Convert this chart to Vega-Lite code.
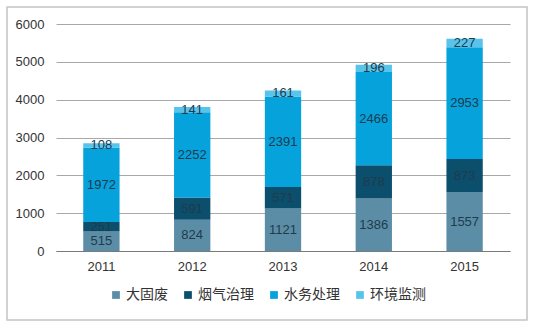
{
  "$schema": "https://vega.github.io/schema/vega-lite/v6.json",
  "width": 520,
  "height": 313,
  "autosize": {"type": "none"},
  "padding": {"left": 7, "top": 7, "right": 6, "bottom": 9},
  "background": "white",
  "config": {
    "view": {"stroke": "#c4c4c4", "strokeWidth": 1.5},
    "font": "Liberation Sans"
  },
  "data": {
    "values": [
      {"year": "2011", "category": "大固废", "order": 1, "value": 515},
      {"year": "2011", "category": "烟气治理", "order": 2, "value": 251},
      {"year": "2011", "category": "水务处理", "order": 3, "value": 1972},
      {"year": "2011", "category": "环境监测", "order": 4, "value": 108},
      {"year": "2012", "category": "大固废", "order": 1, "value": 824},
      {"year": "2012", "category": "烟气治理", "order": 2, "value": 591},
      {"year": "2012", "category": "水务处理", "order": 3, "value": 2252},
      {"year": "2012", "category": "环境监测", "order": 4, "value": 141},
      {"year": "2013", "category": "大固废", "order": 1, "value": 1121},
      {"year": "2013", "category": "烟气治理", "order": 2, "value": 571},
      {"year": "2013", "category": "水务处理", "order": 3, "value": 2391},
      {"year": "2013", "category": "环境监测", "order": 4, "value": 161},
      {"year": "2014", "category": "大固废", "order": 1, "value": 1386},
      {"year": "2014", "category": "烟气治理", "order": 2, "value": 878},
      {"year": "2014", "category": "水务处理", "order": 3, "value": 2466},
      {"year": "2014", "category": "环境监测", "order": 4, "value": 196},
      {"year": "2015", "category": "大固废", "order": 1, "value": 1557},
      {"year": "2015", "category": "烟气治理", "order": 2, "value": 873},
      {"year": "2015", "category": "水务处理", "order": 3, "value": 2953},
      {"year": "2015", "category": "环境监测", "order": 4, "value": 227}
    ]
  },
  "transform": [
    {"stack": "value", "groupby": ["year"], "sort": [{"field": "order", "order": "ascending"}], "as": ["y0", "y1"]},
    {"calculate": "(datum.y0 + datum.y1) / 2", "as": "mid"}
  ],
  "encoding": {
    "x": {
      "field": "year",
      "type": "nominal",
      "scale": {"range": [49, 503], "paddingInner": 0.6, "paddingOuter": 0.3},
      "axis": {
        "title": null,
        "orient": "bottom",
        "offset": -69,
        "labelAngle": 0,
        "ticks": false,
        "domain": true,
        "domainColor": "#7a7a7a",
        "domainWidth": 1.2,
        "labelPadding": 9,
        "labelFontSize": 13,
        "labelColor": "#333333",
        "labelFont": "Liberation Sans"
      }
    }
  },
  "layer": [
    {
      "mark": {"type": "bar"},
      "encoding": {
        "y": {
          "field": "y0",
          "type": "quantitative",
          "scale": {"domain": [0, 6000], "range": [244, 17], "nice": false, "zero": false},
          "axis": {
            "title": null,
            "orient": "left",
            "offset": -49,
            "values": [0, 1000, 2000, 3000, 4000, 5000, 6000],
            "format": "d",
            "grid": true,
            "gridColor": "#a8a8a8",
            "gridWidth": 1,
            "domain": false,
            "ticks": false,
            "labelPadding": 12,
            "labelFontSize": 13,
            "labelColor": "#333333",
            "labelFont": "Liberation Sans"
          }
        },
        "y2": {"field": "y1"},
        "color": {
          "field": "category",
          "type": "nominal",
          "sort": ["大固废", "烟气治理", "水务处理", "环境监测"],
          "scale": {
            "domain": ["大固废", "烟气治理", "水务处理", "环境监测"],
            "range": ["#5b8ea6", "#0b4f6c", "#05a2dc", "#58c4ec"]
          },
          "legend": {
            "title": null,
            "orient": "none",
            "legendX": 102,
            "legendY": 281,
            "direction": "horizontal",
            "symbolType": "square",
            "symbolSize": 60,
            "symbolStrokeWidth": 0,
            "labelFont": "Noto Sans CJK SC",
            "labelFontSize": 14,
            "labelColor": "#333333",
            "labelOffset": 3,
            "columnPadding": 13
          }
        }
      }
    },
    {
      "mark": {"type": "text", "fontSize": 13, "color": "#1f3b4d", "font": "Liberation Sans", "baseline": "middle"},
      "encoding": {
        "y": {"field": "mid", "type": "quantitative"},
        "text": {"field": "value", "type": "quantitative"}
      }
    }
  ]
}
